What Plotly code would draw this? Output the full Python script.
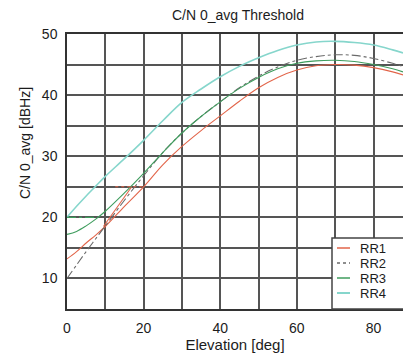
import plotly.graph_objects as go

elevation = [0, 2.5, 5, 7.5, 10, 15, 20, 25, 30, 35, 40, 45, 50, 55, 60, 65, 70, 75, 80, 85, 87.7]
rr1 = [13.2, 14.4, 15.8, 17.1, 18.5, 21.8, 25.0, 28.6, 31.6, 34.2, 36.6, 39.0, 41.2, 42.9, 44.1, 44.8, 45.0, 44.9, 44.5, 43.8, 43.3]
rr2 = [10.0, 12.2, 14.4, 16.5, 18.6, 22.8, 26.8, 30.6, 33.8, 36.5, 38.9, 41.2, 43.1, 44.6, 45.7, 46.3, 46.6, 46.5, 46.0, 45.2, 44.7]
rr3 = [17.2, 17.7, 18.6, 19.7, 21.0, 24.0, 27.2, 30.6, 33.8, 36.5, 38.9, 41.1, 42.9, 44.3, 45.2, 45.6, 45.7, 45.5, 45.0, 44.3, 43.8]
rr4 = [20.0, 21.8, 23.5, 25.1, 26.7, 29.6, 32.6, 35.8, 38.8, 41.0, 43.0, 44.7, 46.1, 47.3, 48.2, 48.7, 48.8, 48.6, 48.2, 47.4, 46.9]

# extra segments visible in the picture
rr1_branch_x = [9.5, 16.9]
rr1_branch_y = [18.5, 25.0]
rr1_floor_x = [12.6, 20.0]
rr1_floor_y = [25.0, 25.0]
rr3_floor_x = [0, 8.0]
rr3_floor_y = [20.0, 20.0]

names = ["RR1", "RR2", "RR3", "RR4"]
colors = ["#e2654a", "#6a6a6a", "#3f9d5e", "#86d6cc"]
dashes = ["solid", "dashdot", "solid", "solid"]
widths = [1.1, 1.1, 1.1, 1.6]

fig = go.Figure()
for name, ys, c, d, w in zip(names, [rr1, rr2, rr3, rr4], colors, dashes, widths):
    fig.add_trace(go.Scatter(x=elevation, y=ys, mode="lines", name=name, showlegend=False,
                             line=dict(color=c, dash=d, width=w, shape="spline")))

fig.add_trace(go.Scatter(x=rr1_branch_x, y=rr1_branch_y, mode="lines", showlegend=False,
                         line=dict(color=colors[0], width=1.1)))
fig.add_trace(go.Scatter(x=rr1_floor_x, y=rr1_floor_y, mode="lines", showlegend=False,
                         line=dict(color=colors[0], width=1.1, dash="dot")))
fig.add_trace(go.Scatter(x=rr3_floor_x, y=rr3_floor_y, mode="lines", showlegend=False,
                         line=dict(color=colors[2], width=1.1, dash="dashdot")))

grid = "#555555"
font = "Liberation Sans, Arial, sans-serif"
txt = "#1c1c1c"

# hand-built legend box (MATLAB style) in plot-area paper coordinates
PW, PH, L, T = 336.0, 275.0, 67.0, 34.0
def px(x):
    return (x - L) / PW
def py(y):
    return 1 - (y - T) / PH

shapes = [dict(type="rect", xref="paper", yref="paper", x0=px(332), x1=px(406), y0=py(309), y1=py(238),
               fillcolor="white", line=dict(color="#444", width=1.5), layer="above")]
annotations = []
rows = [248, 263, 278, 293]
for name, c, d, w, ry in zip(names, colors, dashes, widths, rows):
    shapes.append(dict(type="line", xref="paper", yref="paper", x0=px(337), x1=px(350),
                       y0=py(ry), y1=py(ry), line=dict(color=c, dash="dot" if d != "solid" else "solid",
                                                       width=w + 0.4), layer="above"))
    annotations.append(dict(text=name, xref="paper", yref="paper", x=px(359), y=py(ry),
                            xanchor="left", yanchor="middle", showarrow=False, borderpad=0,
                            font=dict(family=font, size=13, color=txt)))

annotations.append(dict(text="C/N 0_avg [dBHz]", textangle=-90, xref="paper", yref="paper",
                        x=px(25), y=py(143), xanchor="center", yanchor="middle",
                        showarrow=False, font=dict(family=font, size=14, color=txt)))

fig.update_layout(
    width=403, height=354,
    margin=dict(l=67, r=0, t=34, b=45),
    paper_bgcolor="white", plot_bgcolor="white",
    showlegend=False,
    title=dict(text="C/N 0_avg Threshold", x=238/403, xanchor="center",
               y=1-15/354, yanchor="middle", yref="container",
               font=dict(family=font, size=14, color=txt)),
    font=dict(family=font, size=13, color=txt),
    xaxis=dict(range=[0, 87.7], tick0=0, dtick=20, showgrid=True, gridcolor=grid, gridwidth=1.5,
               minor=dict(dtick=10, showgrid=True, gridcolor=grid, gridwidth=1.5),
               showline=True, linecolor="#333", linewidth=1.5, mirror=True,
               zeroline=False, ticks="", ticklabelstandoff=5,
               tickfont=dict(family=font, size=14, color=txt),
               title=dict(text="Elevation [deg]", standoff=3,
                          font=dict(family=font, size=15, color=txt))),
    yaxis=dict(range=[5, 50], tick0=0, dtick=10, showgrid=True, gridcolor=grid, gridwidth=1.5,
               minor=dict(dtick=5, showgrid=True, gridcolor=grid, gridwidth=1.5),
               showline=True, linecolor="#333", linewidth=1.5, mirror=False,
               zeroline=False, ticks="", ticklabelstandoff=5,
               tickfont=dict(family=font, size=14, color=txt)),
    shapes=shapes,
    annotations=annotations,
)

fig.write_html("out.html")
